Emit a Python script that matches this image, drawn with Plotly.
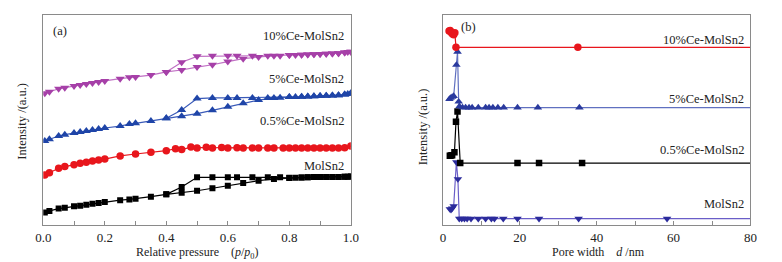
import plotly.graph_objects as go

# ---------------- Panel (a): N2 isotherms ----------------
p_ads = [0.005, 0.02, 0.05, 0.07, 0.1, 0.12, 0.14, 0.16, 0.18, 0.2, 0.25, 0.28, 0.3, 0.35, 0.4,
         0.45, 0.5, 0.55, 0.6, 0.65, 0.7, 0.75, 0.8, 0.82, 0.84, 0.86, 0.88, 0.9, 0.92, 0.94,
         0.96, 0.98, 0.99, 1.0]
p_des = [1.0, 0.98, 0.96, 0.94, 0.92, 0.9, 0.88, 0.86, 0.84, 0.8, 0.77, 0.73, 0.68, 0.63, 0.6,
         0.55, 0.5, 0.45, 0.4]

mol_ads = [5.9, 6.7, 7.8, 8.2, 8.9, 9.2, 9.7, 10.1, 10.5, 11.0, 11.8, 12.2, 12.5, 13.5, 14.6,
           15.4, 16.3, 17.5, 18.7, 20.0, 21.1, 21.9, 22.4, 22.5, 22.6, 22.7, 22.8, 22.9, 22.9, 22.9,
           22.9, 23.0, 23.0, 23.1]
mol_des = [23.1, 23.0, 22.9, 22.9, 22.9, 22.9, 22.8, 22.7, 22.6, 22.5, 22.7, 22.7, 22.7, 22.7, 22.7,
           22.7, 22.7, 18.1, 14.6]

ce05_p = [0.005, 0.02, 0.05, 0.07, 0.1, 0.12, 0.14, 0.16, 0.18, 0.2, 0.25, 0.3, 0.35, 0.4, 0.43,
          0.45, 0.48, 0.5, 0.53, 0.55, 0.58, 0.6, 0.63, 0.65, 0.68, 0.7, 0.73, 0.75, 0.78, 0.8,
          0.82, 0.84, 0.86, 0.88, 0.9, 0.92, 0.94, 0.96, 0.98, 1.0]
ce05_v = [23.8, 24.9, 27.0, 27.8, 28.7, 29.4, 29.9, 30.5, 31.0, 31.4, 32.9, 33.8, 34.6, 35.4, 36.3,
          35.9, 37.1, 36.7, 37.0, 36.7, 36.9, 36.7, 36.8, 36.7, 36.7, 36.7, 36.7, 36.7, 36.7, 36.7,
          36.7, 36.7, 36.7, 36.7, 36.7, 36.7, 36.7, 36.7, 36.8, 37.6]

ce5_ads = [40.0, 40.8, 42.4, 43.0, 43.8, 44.3, 44.8, 45.2, 45.7, 46.2, 47.1, 48.1, 48.4, 49.5, 50.8,
           51.8, 53.0, 54.6, 56.3, 58.0, 59.5, 60.5, 61.0, 61.0, 61.1, 61.2, 61.3, 61.4, 61.5, 61.7,
           61.8, 62.1, 62.4, 62.7]
ce5_des = [62.7, 62.1, 61.8, 61.7, 61.5, 61.4, 61.3, 61.2, 61.1, 61.0, 60.6, 60.5, 60.5, 60.5, 60.5,
           60.5, 60.2, 54.8, 50.8]

ce10_ads = [62.7, 63.5, 64.9, 65.4, 66.2, 66.7, 67.1, 67.6, 68.1, 68.6, 69.7, 70.3, 70.5, 71.4, 72.9,
            73.8, 75.2, 76.3, 77.8, 79.2, 80.0, 80.6, 81.0, 81.0, 81.1, 81.2, 81.3, 81.4, 81.5, 81.7,
            81.8, 82.1, 82.4, 82.5]
ce10_des = [82.5, 82.1, 81.8, 81.7, 81.5, 81.4, 81.3, 81.2, 81.1, 81.0, 80.6, 80.6, 80.6, 80.6, 80.6,
            80.6, 80.3, 77.5, 72.9]

# ---------------- Panel (b): pore size distributions ----------------
d_mol = [1.8, 2.1, 2.4, 2.8, 3.5, 3.9, 4.25, 4.9, 5.6, 6.3, 7.3, 9.2, 11.1, 12.6, 13.4, 15.7,
         19.4, 25.0, 35.3, 58.3, 85]
v_mol = [7.6, 7.3, 7.9, 9.0, 29.9, 21.9, 3.0, 3.0, 3.0, 3.0, 3.0, 3.0, 3.0, 3.0, 3.0, 3.0,
         3.0, 3.0, 3.0, 3.0, 3.0]

d_05 = [1.8, 2.1, 2.4, 3.0, 3.4, 3.8, 4.5, 19.4, 25.0, 36.2, 85]
v_05 = [33.0, 33.1, 33.2, 34.6, 49.2, 54.0, 29.5, 29.5, 29.5, 29.5, 29.5]

d_5 = [1.7, 2.0, 2.4, 2.8, 3.5, 3.8, 4.1, 4.3, 5.1, 5.9, 6.8, 7.6, 9.2, 11.1, 12.0, 13.0, 14.3,
       15.8, 19.4, 24.7, 35.5, 85]
v_5 = [60.0, 60.5, 61.0, 61.4, 76.2, 82.5, 58.7, 56.5, 56.0, 55.9, 55.9, 55.9, 55.9, 55.9, 55.9,
       55.9, 55.9, 55.9, 55.9, 55.9, 55.9, 55.9]

d_10 = [1.6, 1.9, 2.2, 2.5, 2.8, 3.1, 3.4, 35.1, 85]
v_10 = [92.4, 92.6, 91.5, 91.0, 90.6, 91.5, 84.6, 84.6, 84.6]

labels = ["10%Ce-MolSn2", "5%Ce-MolSn2", "0.5%Ce-MolSn2", "MolSn2"]
xticks_a = [0.0, 0.2, 0.4, 0.6, 0.8, 1.0]
xticks_b = [0, 20, 40, 60, 80]

FONT = "Liberation Serif"
W, H = 782, 262

def px_x(x):
    return x / W

def px_y(y):
    return 1 - y / H

fig = go.Figure()

def add(x, y, xa, ya, color, lcolor, symbol, size):
    fig.add_trace(go.Scatter(
        x=x, y=y, xaxis=xa, yaxis=ya, mode="lines+markers",
        line=dict(color=lcolor, width=1.2),
        marker=dict(symbol=symbol, size=size, color=color, line=dict(width=0)),
        showlegend=False, cliponaxis=True, hoverinfo="skip"))

add(p_ads + p_des, mol_ads + mol_des, "x", "y", "#000000", "#000000", "square", 6)
add(ce05_p, ce05_v, "x", "y", "#e8161c", "#e8161c", "circle", 7.5)
add(p_ads + p_des, ce5_ads + ce5_des, "x", "y", "#1f45a8", "#3a5ab8", "triangle-up", 8)
add(p_ads + p_des, ce10_ads + ce10_des, "x", "y", "#a640a8", "#c070c4", "triangle-down", 8)

add(d_mol, v_mol, "x2", "y2", "#2b2b9c", "#6a5ec8", "triangle-down", 7.5)
add(d_05, v_05, "x2", "y2", "#000000", "#000000", "square", 6.5)
add(d_5, v_5, "x2", "y2", "#2a3a9e", "#6070c0", "triangle-up", 7.5)
add(d_10, v_10, "x2", "y2", "#e8161c", "#e8161c", "circle", 7.5)

ydom = [px_y(225), px_y(15)]
axis_common = dict(showgrid=False, zeroline=False, showline=True, linecolor="#8a8a8a",
                   linewidth=1, mirror=True,
                   tickfont=dict(family=FONT, size=13, color="#222"))

fig.update_layout(
    width=W, height=H, margin=dict(l=0, r=0, t=0, b=0),
    paper_bgcolor="white", plot_bgcolor="white",
    xaxis=dict(domain=[px_x(36), px_x(350)], range=[0, 1.0], anchor="y",
               tickvals=xticks_a, ticktext=[f"{v:.1f}" for v in xticks_a],
               ticks="inside", ticklen=4, tickcolor="#8a8a8a",
               minor=dict(dtick=0.1, tick0=0, ticks="inside", ticklen=4, tickcolor="#8a8a8a"),
               **axis_common),
    yaxis=dict(domain=ydom, range=[0, 100], anchor="x", showticklabels=False, ticks="",
               **axis_common),
    xaxis2=dict(domain=[px_x(444), px_x(758)], range=[0, 80], anchor="y2",
                tickvals=xticks_b, ticktext=[str(v) for v in xticks_b],
                ticks="inside", ticklen=4, tickcolor="#8a8a8a",
                minor=dict(dtick=10, tick0=0, ticks="inside", ticklen=4, tickcolor="#8a8a8a"),
                **axis_common),
    yaxis2=dict(domain=ydom, range=[0, 100], anchor="x2", showticklabels=False, ticks="",
                **axis_common),
)

ann = []
def note(text, x, y, xanchor="center", angle=0, size=12.5):
    ann.append(dict(text=text, x=px_x(x), y=px_y(y), xref="paper", yref="paper",
                    xanchor=xanchor, yanchor="middle", showarrow=False, textangle=angle,
                    font=dict(family=FONT, size=size, color="#222")))

note("(a)", 53, 31)
note("(b)", 470, 27)
for lab, yy in zip(labels, [36, 79.3, 120.7, 165.7]):
    note(lab, 345, yy, xanchor="right")
for lab, yy in zip(labels, [40, 99, 150, 204]):
    note(lab, 753, yy, xanchor="right")
note("Relative pressure&#160;&#160;&#160;&#160;(<i>p</i>/<i>p</i><sub>0</sub>)", 193, 252.5, size=12)
note("Pore width&#160;&#160;&#160;&#160;<i>d</i> /nm", 603, 252, size=12)
note("Intensity /(a.u.)", 14, 121, angle=-90)
note("Intensity /(a.u.)", 424, 127, angle=-90)
fig.update_layout(annotations=ann)

fig.write_html("out.html", config={"displayModeBar": False},
               post_script="document.body.style.margin='0px';document.body.style.overflow='hidden';")
